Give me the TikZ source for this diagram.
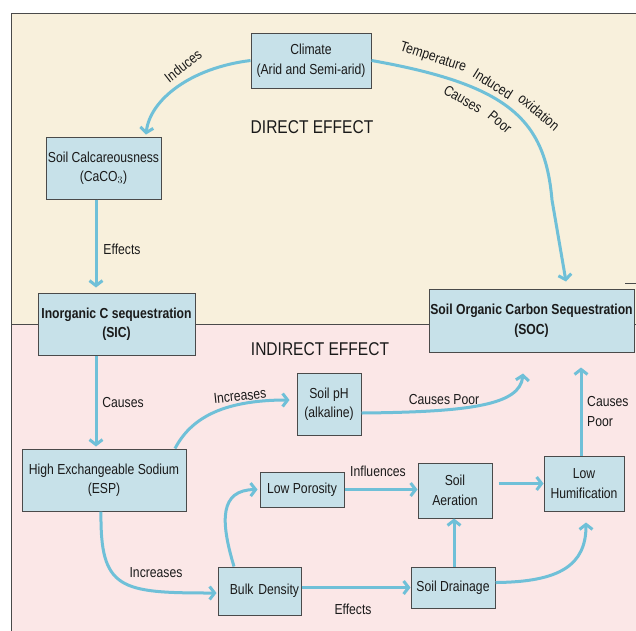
\documentclass[tikz,border=0pt]{standalone}
\usepackage{fontspec}
\setmainfont{Liberation Sans}[FakeStretch=0.84]
\usetikzlibrary{arrows.meta,calc}
\definecolor{cream}{HTML}{F8F0DC}
\definecolor{pinkbg}{HTML}{FBE7E7}
\definecolor{boxfill}{HTML}{C7E1E9}
\definecolor{arrowblue}{HTML}{6FC0D8}
\definecolor{edgegray}{HTML}{4A4A4A}
\definecolor{txt}{HTML}{1A1A1A}
\tikzset{
  box/.style={draw=edgegray, line width=1pt, fill=boxfill, inner sep=0pt, align=center,
    text=txt, font=\fontsize{14.5}{19.5}\selectfont},
  boldbox/.style={box, font=\fontsize{14.5}{19.5}\selectfont\bfseries},
  lbl/.style={inner sep=0pt, text=txt, font=\fontsize{14.5}{19.5}\selectfont, align=center},
  biglbl/.style={inner sep=0pt, text=txt, font=\fontsize{18.5}{22}\selectfont},
  arr/.style={draw=arrowblue, line width=3pt, -{Straight Barb[length=5pt,width=13pt]}}
}
\begin{document}
\begin{tikzpicture}[x=1pt,y=-1pt]
\useasboundingbox (0,0) rectangle (636,630);
% background panels
\fill[white] (0,0) rectangle (636,630);
\fill[cream] (11,13) rectangle (650,324);
\fill[pinkbg] (11,324) rectangle (650,650);
\draw[edgegray, line width=1pt] (650,13) -- (11,13) -- (11,650);
\draw[edgegray, line width=1pt] (11,324) -- (650,324);
\draw[edgegray, line width=1pt] (625,283) -- (650,283);

% boxes
\node[box, minimum width=120, minimum height=55] (clim) at (311,60.5) {Climate\\(Arid and Semi-arid)};
\node[box, minimum width=115, minimum height=62] (calc) at (103.5,168) {Soil Calcareousness\\(CaCO$_3$)};
\node[boldbox, minimum width=157, minimum height=62] (sic) at (116.5,324) {Inorganic C sequestration\\(SIC)};
\node[boldbox, minimum width=205, minimum height=63] (soc) at (531.5,320.5) {Soil Organic Carbon Sequestration\\(SOC)};
\node[box, minimum width=64, minimum height=62] (ph) at (329,404) {Soil pH\\(alkaline)};
\node[box, minimum width=164, minimum height=62] (esp) at (104,480) {High Exchangeable Sodium\\(ESP)};
\node[box, minimum width=84, minimum height=35] (lowpor) at (302,489.5) {Low Porosity};
\node[box, minimum width=74, minimum height=55] (aer) at (455,490.5) {Soil\\Aeration};
\node[box, minimum width=80, minimum height=55] (hum) at (584,483.5) {Low\\Humification};
\node[box, minimum height=48, text width=79, inner xsep=2pt, align=right] (bulk) at (259.5,591) {Bulk Density};
\node[box, minimum width=84, minimum height=41] (drain) at (453,587.5) {Soil Drainage};

% section titles
\node[biglbl] (direct) at (312,127) {DIRECT EFFECT};
\node[biglbl] (indirect) at (320,349) {INDIRECT EFFECT};

% connectors
\draw[arr] (clim.west) .. controls (190,68) and (150,100) .. ($(calc.north -| 146,0)+(0,-2)$);
\draw[arr] (calc.south -| 96,0) -- ($(sic.north -| 96,0)+(0,-5)$);
\draw[arr] (clim.east) .. controls (510,85) and (545,120) .. (552,200) -- ($(soc.north -| 566,0)+(0,-7)$);
\draw[arr] (sic.south -| 96,0) -- ($(esp.north -| 96,0)+(0,-2)$);
\draw[arr] (esp.north -| 175,0) .. controls (190,420) and (220,400) .. ($(ph.west)+(-7,-4)$);
\draw[arr] ($(ph.east)+(0,9)$) .. controls (470,412) and (520,405) .. ($(soc.south -| 523,0)+(0,21)$);
\draw[arr] (hum.north -| 581,0) -- ($(soc.south -| 581,0)+(0,15)$);
\draw[arr] (esp.south -| 101,0) .. controls (100,590) and (120,593) .. ($(bulk.west)+(-1,2)$);
\draw[arr] (bulk.north -| 234,0) .. controls (220,520) and (220,490) .. ($(lowpor.west)+(-2,0)$);
\draw[arr] (lowpor.east) -- (aer.west |- lowpor.east);
\draw[arr] ($(aer.east)+(6,-7)$) -- (hum.west);
\draw[arr] (drain.north -| 454,0) -- (aer.south -| 454,0);
\draw[arr] ($(drain.east)+(0,-5)$) .. controls (560,582) and (586,565) .. ($(hum.south -| 586,0)+(0,11)$);
\draw[arr] (bulk.east |- drain.west) -- (drain.west);

% labels
\node[lbl, rotate=38] (linduces) at (183,66) {Induces};
\node[lbl, rotate=-18] (ltemp) at (433,58) {Temperature};
\node[lbl, rotate=-32] (linduced) at (493,84) {Induced};
\node[lbl, rotate=-40] (loxid) at (539,112) {oxidation};
\node[lbl, rotate=-30] (lcauses1) at (463,99) {Causes};
\node[lbl, rotate=-40] (lpoor1) at (500,122) {Poor};
\node[lbl] (leffects1) at (122,249) {Effects};
\node[lbl] (lcauses2) at (123,402) {Causes};
\node[lbl, rotate=6] (lincr1) at (240,396) {Increases};
\node[lbl] (lcp) at (444,399) {Causes Poor};
\node[lbl, align=left, anchor=west] (lcp2) at (587,411.5) {Causes\\Poor};
\node[lbl] (linfl) at (378,471) {Influences};
\node[lbl] (lincr2) at (156,573) {Increases};
\node[lbl] (leffects2) at (353,609) {Effects};
\end{tikzpicture}
\end{document}
